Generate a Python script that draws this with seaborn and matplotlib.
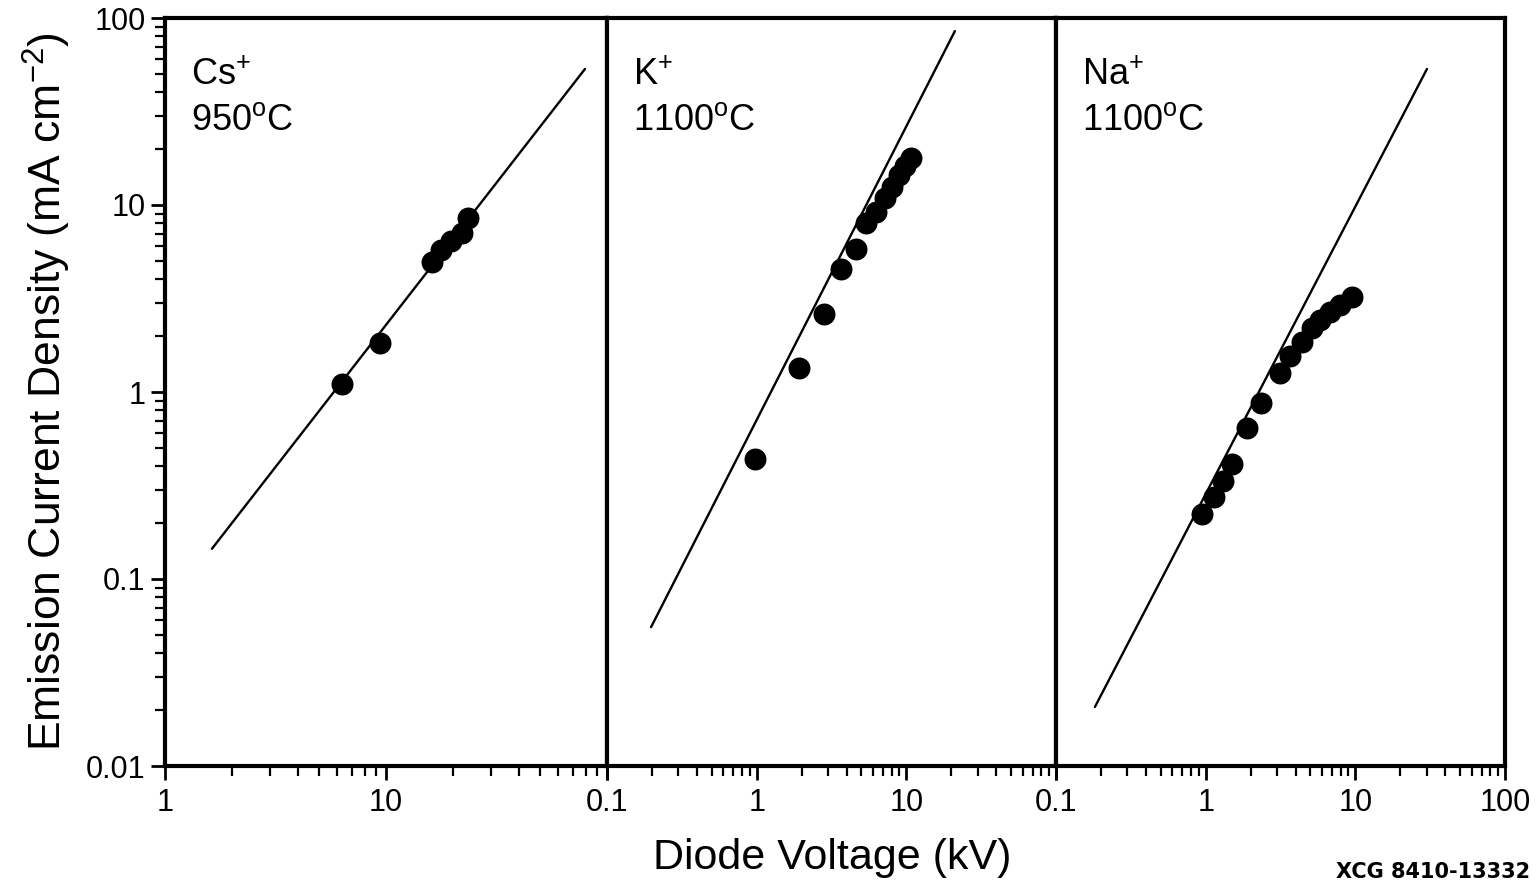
import numpy as np
import pandas as pd
import matplotlib
matplotlib.use('Agg')
import matplotlib.pyplot as plt
import seaborn as sns
from matplotlib.ticker import LogLocator, NullFormatter, FixedLocator, FixedFormatter

cs_v = [6.3, 9.4, 16.1, 17.7, 19.7, 22.1, 23.5]
cs_j = [1.10, 1.83, 4.96, 5.74, 6.42, 7.08, 8.52]
k_v = [0.98, 1.93, 2.80, 3.64, 4.58, 5.35, 6.24, 7.17, 7.98, 8.89, 9.75, 10.7]
k_j = [0.438, 1.34, 2.61, 4.55, 5.82, 8.01, 9.18, 10.9, 12.5, 14.5, 16.2, 17.8]
na_v = [0.944, 1.14, 1.31, 1.50, 1.89, 2.34, 3.13, 3.66, 4.40, 5.13, 5.80, 6.77, 7.89, 9.49]
na_j = [0.223, 0.275, 0.334, 0.412, 0.641, 0.873, 1.26, 1.56, 1.85, 2.20, 2.43, 2.68, 2.92, 3.22]

# end points of the drawn reference lines
cs_line_v = [1.63, 79.5]
cs_line_j = [0.145, 53.4]
k_line_v = [0.197, 21.1]
k_line_j = [0.0553, 85.1]
na_line_v = [0.182, 30.1]
na_line_j = [0.0207, 53.4]

panel_ions = ['Cs$^{+}$', 'K$^{+}$', 'Na$^{+}$']
panel_temps = ['950$^{\\rm o}$C', '1100$^{\\rm o}$C', '1100$^{\\rm o}$C']

sns.set_style('ticks')
plt.rcParams['font.family'] = ['Liberation Sans', 'DejaVu Sans']
plt.rcParams['mathtext.fontset'] = 'custom'
plt.rcParams['mathtext.rm'] = 'Liberation Sans'
plt.rcParams['mathtext.it'] = 'Liberation Sans'
plt.rcParams['text.color'] = 'black'
plt.rcParams['axes.labelcolor'] = 'black'
plt.rcParams['xtick.color'] = 'black'
plt.rcParams['ytick.color'] = 'black'

W, H = 1539, 886
fig = plt.figure(figsize=(W / 100, H / 100), dpi=100)

top = 18
bot = 766
edges = [165, 607, 1056, 1505]
xlims = [(1, 100), (0.1, 100), (0.1, 100)]
xticklabels = [['1', '10'], ['0.1', '1', '10'], ['0.1', '1', '10', '100']]
xtickvals = [[1, 10], [0.1, 1, 10], [0.1, 1, 10, 100]]

data = [(cs_v, cs_j, cs_line_v, cs_line_j),
        (k_v, k_j, k_line_v, k_line_j),
        (na_v, na_j, na_line_v, na_line_j)]

axes = []
for i in range(3):
    l = edges[i] / W
    w = (edges[i + 1] - edges[i]) / W
    ax = fig.add_axes([l, 1 - bot / H, w, (bot - top) / H])
    axes.append(ax)
    pv, pj, lv, lj = data[i]
    sns.lineplot(x=lv, y=lj, ax=ax, color='black', linewidth=1.7)
    sns.scatterplot(x=pv, y=pj, ax=ax, color='black', s=250, edgecolor='black',
                    linewidth=0, zorder=3)
    ax.set_xscale('log')
    ax.set_yscale('log')
    ax.set_xlim(*xlims[i])
    ax.set_ylim(0.01, 100)
    for sp in ax.spines.values():
        sp.set_visible(True)
        sp.set_linewidth(3)
        sp.set_color('black')
    ax.xaxis.set_major_locator(FixedLocator(xtickvals[i] + ([100] if i < 2 else [])))
    labs = xticklabels[i] + ([''] if i < 2 else [])
    ax.xaxis.set_major_formatter(FixedFormatter(labs))
    ax.xaxis.set_minor_locator(LogLocator(base=10, subs=np.arange(2, 10), numticks=20))
    ax.xaxis.set_minor_formatter(NullFormatter())
    ax.tick_params(axis='x', which='major', direction='out', length=10, width=2,
                   labelsize=22, pad=6)
    ax.tick_params(axis='x', which='minor', direction='out', length=7, width=1.6)
    if i == 0:
        ax.yaxis.set_major_locator(FixedLocator([0.01, 0.1, 1, 10, 100]))
        ax.yaxis.set_major_formatter(FixedFormatter(['0.01', '0.1', '1', '10', '100']))
        ax.yaxis.set_minor_locator(LogLocator(base=10, subs=np.arange(2, 10), numticks=20))
        ax.yaxis.set_minor_formatter(NullFormatter())
        ax.tick_params(axis='y', which='major', direction='out', length=10, width=2,
                       labelsize=22, pad=4)
        ax.tick_params(axis='y', which='minor', direction='out', length=7, width=1.6)
        ax.set_ylabel('Emission Current Density (mA cm$^{-2}$)', fontsize=32,
                      labelpad=9)
    else:
        ax.set_yticks([])
        ax.yaxis.set_minor_locator(FixedLocator([]))
        ax.set_ylabel('')
    ax.set_xlabel('')
    ax.text(0.058, 0.923, panel_ions[i], transform=ax.transAxes, fontsize=26,
            va='center', ha='left')
    ax.text(0.058, 0.863, panel_temps[i], transform=ax.transAxes, fontsize=26,
            va='center', ha='left')

fig.text(832 / W, 1 - 858 / H, 'Diode Voltage (kV)', fontsize=31, ha='center', va='center')
fig.text(1530 / W, 1 - 872 / H, 'XCG 8410-13332', fontsize=15, fontweight='bold',
         family='DejaVu Sans', ha='right', va='center')

fig.savefig('out.png', dpi=100)
